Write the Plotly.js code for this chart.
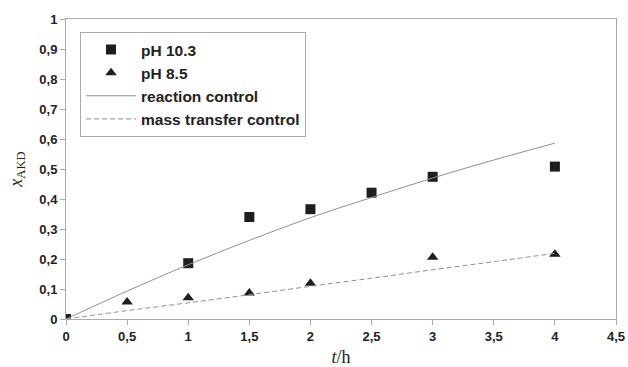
<!DOCTYPE html>
<html>
<head>
<meta charset="utf-8">
<script src="https://cdn.plot.ly/plotly-3.0.1.min.js"></script>
<style>html,body{margin:0;padding:0;background:#fff;}#chart{width:628px;height:367px;}</style>
</head>
<body>
<div id="chart"></div>
<script>
// Measured data
const tHigh = [0, 1, 1.5, 2, 2.5, 3, 4];
const xHigh = [0, 0.186, 0.34, 0.366, 0.421, 0.474, 0.508];
const tLow = [0, 0.5, 1, 1.5, 2, 3, 4];
const xLow = [0, 0.057, 0.071, 0.087, 0.119, 0.206, 0.216];
// Model curves
const tModel = [0, 0.5, 1, 1.5, 2, 2.5, 3, 3.5, 4];
const xReaction = [0, 0.093, 0.181, 0.262, 0.338, 0.405, 0.47, 0.53, 0.586];
const xMassTransfer = [0, 0.028, 0.054, 0.081, 0.109, 0.136, 0.164, 0.191, 0.219];
const xTickVals = [0, 0.5, 1, 1.5, 2, 2.5, 3, 3.5, 4, 4.5];
const yTickVals = [0, 0.1, 0.2, 0.3, 0.4, 0.5, 0.6, 0.7, 0.8, 0.9, 1];

const sans = 'Liberation Sans, Arial, sans-serif';
const serif = 'Liberation Serif, Times New Roman, serif';

const traces = [
  {x: tHigh, y: xHigh, mode: 'markers', name: '<b>pH 10.3</b>', legendgroup: 'a',
   marker: {symbol: 'square', size: 10, color: '#1e1e1e'}},
  {x: tLow, y: xLow, mode: 'markers', name: '<b>pH 8.5</b>', legendgroup: 'b',
   marker: {symbol: 'triangle-up', size: 10, color: '#1e1e1e'}},
  {x: tModel, y: xReaction, mode: 'lines', name: '<b>reaction control</b>', legendgroup: 'c',
   line: {color: '#909090', width: 1, shape: 'spline'}},
  {x: tModel, y: xMassTransfer, mode: 'lines', name: '<b>mass transfer control</b>', legendgroup: 'd',
   line: {color: '#909090', width: 1, dash: '5px,3px', shape: 'spline'}}
];

const layout = {
  width: 628, height: 367,
  margin: {l: 66, r: 12, t: 19, b: 48},
  paper_bgcolor: '#fff', plot_bgcolor: '#fff',
  separators: ',.',
  font: {family: sans, size: 13, color: '#222'},
  showlegend: true,
  legend: {
    x: 0.0255, y: 0.957, xanchor: 'left', yanchor: 'top',
    bordercolor: '#aaaaaa', borderwidth: 1, bgcolor: '#fff',
    font: {family: sans, size: 15.5, color: '#222'},
    traceorder: 'grouped', tracegroupgap: 0, itemwidth: 50
  },
  xaxis: {
    range: [0, 4.5], tickvals: xTickVals, ticks: 'outside', ticklen: 5, tickcolor: '#aaaaaa',
    showline: true, linecolor: '#aaaaaa', linewidth: 1, mirror: true,
    showgrid: false, zeroline: false,
    tickfont: {family: sans, size: 13, color: '#222', weight: 'bold'},
    title: {text: '<i>t</i>/h', font: {family: serif, size: 18, color: '#222'}, standoff: 9},
    automargin: false
  },
  yaxis: {
    range: [0, 1], tickvals: yTickVals, ticks: 'outside', ticklen: 5, tickcolor: '#aaaaaa',
    showline: true, linecolor: '#aaaaaa', linewidth: 1, mirror: true,
    showgrid: false, zeroline: false,
    tickfont: {family: sans, size: 13, color: '#222', weight: 'bold'},
    title: {text: '<i>x</i><sub>AKD</sub>', font: {family: serif, size: 18, color: '#222'}, standoff: 12},
    automargin: false
  }
};

Plotly.newPlot('chart', traces, layout, {staticPlot: true, displayModeBar: false});
</script>
</body>
</html>
